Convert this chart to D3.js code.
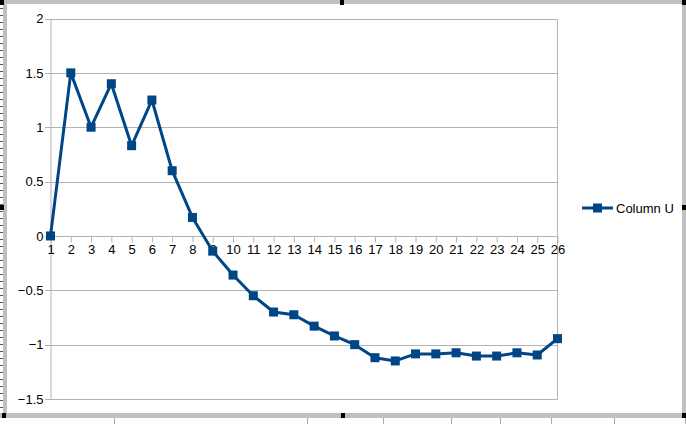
<!DOCTYPE html>
<html><head><meta charset="utf-8">
<script src="https://cdn.jsdelivr.net/npm/d3@7"></script>
<style>html,body{margin:0;padding:0;background:#fff;}svg{display:block;}</style>
</head><body>
<script>
const categories = d3.range(1, 27).map(String);
const seriesName = "Column U";
const values = [0, 1.5, 1.0, 1.4, 0.83, 1.25, 0.6, 0.17, -0.14, -0.36, -0.55, -0.70, -0.725, -0.83, -0.92, -1.0, -1.12, -1.15, -1.085, -1.085, -1.075, -1.105, -1.105, -1.075, -1.095, -0.945];
const yTicks = [2, 1.5, 1, 0.5, 0, -0.5, -1, -1.5];

const W = 686, H = 424;
const svg = d3.select("body").append("svg").attr("width", W).attr("height", H)
  .style("font-family", "'Liberation Sans', Arial, sans-serif");

// LibreOffice-style frame decoration
const grey = "#c0c0c0";
svg.append("rect").attr("x", 0).attr("y", 0).attr("width", W).attr("height", 4).attr("fill", grey);
svg.append("rect").attr("x", 682).attr("y", 0).attr("width", 4).attr("height", 418).attr("fill", grey);
svg.append("rect").attr("x", 0).attr("y", 413).attr("width", 686).attr("height", 5).attr("fill", grey);
svg.append("rect").attr("x", 3).attr("y", 0).attr("width", 4).attr("height", 418).attr("fill", grey);
const dash = svg.append("g");
for (let yy = 8; yy < 410; yy += 7) {
  dash.append("rect").attr("x", 0).attr("y", yy).attr("width", 3).attr("height", 1).attr("fill", "#555");
}
[[0,0],[340,0],[682,0],[0,205],[682,205],[2,413],[341,413],[682,413]].forEach(([hx,hy]) => {
  svg.append("rect").attr("x", hx).attr("y", hy).attr("width", 4).attr("height", 5).attr("fill", "#000");
});
[114, 307, 383, 451, 500, 551, 614, 685].forEach(tx => {
  svg.append("line").attr("x1", tx + 0.5).attr("x2", tx + 0.5).attr("y1", 418).attr("y2", 424)
    .attr("stroke", "#aaa").attr("stroke-width", 1);
});

const x = d3.scalePoint().domain(categories).range([50.5, 557.5]);
const y = d3.scaleLinear().domain([-1.5, 2]).range([399, 18.5]);
const gridCol = "#b3b3b3";

// gridlines
svg.append("g").selectAll("line").data(yTicks).join("line")
  .attr("x1", 45).attr("x2", 557.5)
  .attr("y1", d => Math.round(y(d)) + 0.5).attr("y2", d => Math.round(y(d)) + 0.5)
  .attr("stroke", gridCol).attr("stroke-width", 1);
// plot right border
svg.append("line").attr("x1", 557.5).attr("x2", 557.5).attr("y1", Math.round(y(2)) + 0.5).attr("y2", Math.round(y(-1.5)) + 0.5)
  .attr("stroke", gridCol);

// y axis
const yAxis = svg.append("g").attr("transform", "translate(50.5,0)")
  .call(d3.axisLeft(y).tickValues(yTicks).tickSize(0).tickPadding(7).tickFormat(d3.format("")));
yAxis.select(".domain").attr("stroke", gridCol);
yAxis.selectAll("text").attr("font-size", 13).attr("fill", "#000").attr("font-family", "'Liberation Sans', Arial, sans-serif");

// x axis at y=0
const xAxis = svg.append("g").attr("transform", `translate(0,${Math.round(y(0)) + 0.5})`)
  .call(d3.axisBottom(x).tickSize(6).tickPadding(2));
xAxis.select(".domain").attr("stroke", gridCol).attr("d", `M50.5,0H557.5`);
xAxis.selectAll(".tick line").attr("stroke", gridCol);
xAxis.selectAll("text").attr("font-size", 13).attr("fill", "#000").attr("font-family", "'Liberation Sans', Arial, sans-serif");

const color = "#004586";
const line = d3.line().x((d, i) => x(categories[i])).y(d => y(d));
svg.append("path").datum(values).attr("d", line)
  .attr("fill", "none").attr("stroke", color).attr("stroke-width", 3).attr("stroke-linejoin", "round");
svg.append("g").selectAll("rect").data(values).join("rect")
  .attr("x", (d, i) => x(categories[i]) - 4.5).attr("y", d => y(d) - 4.5)
  .attr("width", 9).attr("height", 9).attr("fill", color);

// legend
const lg = svg.append("g").attr("transform", "translate(582,208)");
lg.append("line").attr("x1", 0).attr("x2", 31).attr("y1", 0).attr("y2", 0).attr("stroke", color).attr("stroke-width", 3);
lg.append("rect").attr("x", 11).attr("y", -4.5).attr("width", 9).attr("height", 9).attr("fill", color);
lg.append("text").attr("x", 34).attr("y", 4.5).attr("font-size", 13).attr("fill", "#000").text(seriesName);
</script>
</body></html>
